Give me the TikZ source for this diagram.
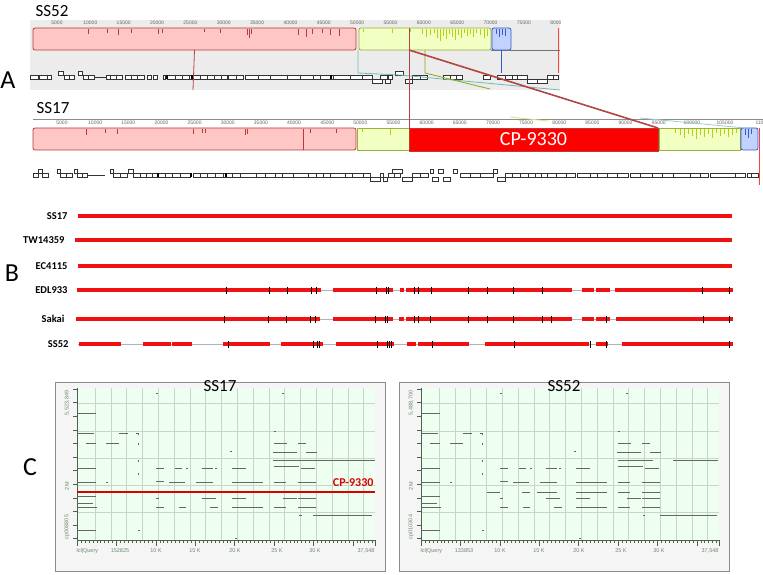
\documentclass[tikz,border=0pt]{standalone}
\usepackage{fontspec}
\setmainfont{Carlito}
\newfontfamily\axisfont{Liberation Sans}
\usepackage{xcolor}
\usetikzlibrary{positioning}

\definecolor{lcbpink}{HTML}{FFC6C6}
\definecolor{lcbredline}{HTML}{B83A3A}
\definecolor{lcbyel}{HTML}{F2FFC2}
\definecolor{lcbyelline}{HTML}{9CAE3C}
\definecolor{lcbblue}{HTML}{C2D2FF}
\definecolor{lcbblueline}{HTML}{3A58D0}
\definecolor{spikeyel}{HTML}{B4D010}
\definecolor{panelgray}{HTML}{ECECEC}
\definecolor{linkred}{HTML}{B24444}
\definecolor{trackred}{HTML}{F01212}
\definecolor{plotmint}{HTML}{EEFFF2}
\definecolor{gridgreen}{HTML}{C4D8C8}
\definecolor{axisgreen}{HTML}{6C8C6C}

\begin{document}
\begin{tikzpicture}[x=1pt, y=-1pt,
  lcb/.style={draw, rounded corners=2pt, inner sep=0pt, outer sep=0pt,
              minimum height=22pt, line width=0.8pt, anchor=north west},
  gene/.style={draw=black!80, fill=white, line width=0.4pt},
  rulerlbl/.style={font=\axisfont\fontsize{5}{5}\selectfont, text=black!60},
  panellbl/.style={font=\fontsize{26}{26}\selectfont},
  strainlbl/.style={font=\bfseries\fontsize{10.5}{11}\selectfont, anchor=east},
  track/.style={trackred, line width=4.2pt},
  trackbase/.style={black!30, line width=1pt},
  snp/.style={black, line width=0.9pt},
  hit/.style={black!60, line width=1pt},
  plotgrid/.style={gridgreen, line width=0.6pt},
  axlbl/.style={font=\axisfont\fontsize{5.5}{6}\selectfont, text=axisgreen},
  link/.style={line width=0.8pt}
]
\useasboundingbox (0,0) rectangle (763,575);

% ── A: SS52 track ──
\fill[panelgray] (30,20) rectangle (560,90);
\node[font=\fontsize{17}{17}\selectfont] (ss52top) at (52,11) {SS52};
\begin{scope}
  \clip (30,15) rectangle (560,30);
  \foreach \k in {1,...,16}
    \node[rulerlbl] (r52n\k) at ({57+33.35*(\k-1)},22.5) {\number\numexpr5000*\k\relax};
\end{scope}
\node[lcb, fill=lcbpink, draw=lcbredline, minimum width=323pt] (b52red) at (33,28) {};
\node[lcb, fill=lcbyel, draw=lcbyelline, minimum width=132pt] (b52yel) at (359,28) {};
\node[lcb, fill=lcbblue, draw=lcbblueline, minimum width=19pt] (b52blue) at (492,28) {};
\foreach \s/\h in {88/5,107/4,118/6,131/4,158/5,162/4,204/3,220/4,247/6,249/9,251/5,298/6,306/8,312/5,322/4,330/6,339/7}
  \draw[lcbredline, line width=0.6pt] (\s,29) -- ++(0,\h);
\foreach \s/\h in {363/3,392/4,410/3,422/5,426/8,430/6,434/4,437/9,440/12,443/7,446/10,449/5,452/8,455/11,458/6,461/9,464/4,467/7,470/5,473/8,476/4,480/6,484/9,487/7}
  \draw[spikeyel, line width=0.6pt] (\s,29) -- ++(0,\h);
\foreach \s/\h in {496/5,499/8,502/6,505/7}
  \draw[lcbblueline, line width=0.6pt] (\s,29) -- ++(0,\h);
\draw[black!55, line width=0.6pt] (b52yel.south east) -- (560,50);
\node[panellbl] (lblA) at (8,80) {A};

% ── A: SS52 genes ──
\foreach \a/\b in {30/38,39/47,47/51,64/69,69/74,83/88,88/94,106/110,110/116,116/122,125/131,131/137,137/144,147/151,153/157,163/165,167/175,175/182,182/189,189/192,193/200,200/207,207/214,214/221,221/227,228/236,236/243,245/258,258/270,270/287,287/300,300/313,313/320,320/333,333/350,350/362,362/372,380/387,388/392,412/420,420/427,443/450,450/456,456/462,483/490,497/505,505/512,512/517,517/527,547/553,553/558}
  \draw[gene] (\a,75) rectangle (\b,79);
\foreach \a/\b in {58/63,78/82,395/403}
  \draw[gene] (\a,71) rectangle (\b,75);
\foreach \a/\b in {372/382,385/390,405/412,527/537,537/547}
  \draw[gene] (\a,79) rectangle (\b,83);
\draw[black!80, line width=0.4pt] (94,77) -- (106,77);
\foreach \a/\b in {191/193,330/332,166/167.5}
  \fill[black] (\a,75) rectangle (\b,79);

% ── A: SS17 track ──
\node[font=\fontsize{17}{17}\selectfont] (ss17top) at (53,108) {SS17};
\draw[black!45, line width=0.6pt] (33,119) -- (763,119);
\foreach \k in {1,...,21}
  \node[rulerlbl] (r17n\k) at ({62+33.15*(\k-1)},123) {\number\numexpr5000*\k\relax};
\node[rulerlbl, anchor=west] (r17n22) at (752,123) {110};
\node[lcb, fill=lcbpink, draw=lcbredline, minimum width=323pt] (b17red) at (33,128) {};
\node[lcb, fill=lcbyel, draw=lcbyelline, minimum width=52pt, rounded corners=0pt] (b17yelA) at (357,128) {};
\node[lcb, fill=red, draw=lcbredline, minimum width=249pt, minimum height=23pt, rounded corners=0pt,
      text=white, font=\fontsize{20}{20}\selectfont] (cp) at (409,128) {CP-9330};
\node[lcb, fill=lcbyel, draw=lcbyelline, minimum width=81pt, rounded corners=0pt] (b17yelB) at (659,128) {};
\node[lcb, fill=lcbblue, draw=lcbblueline, minimum width=17pt] (b17blue) at (741,128) {};
\foreach \s/\h in {86/6,105/4,117/5,193/5,202/4,205/4,245/6,247/5,310/4,336/4}
  \draw[lcbredline, line width=0.6pt] (\s,129) -- ++(0,\h);
\draw[lcbredline, line width=0.6pt] (303,129) -- (303,150);
\foreach \s/\h in {362/3,390/6,675/4,680/6,684/9,688/5,692/7,696/10,700/6,704/8,708/5,712/9,716/4,720/7,724/5,728/8,732/6,736/4}
  \draw[spikeyel, line width=0.6pt] (\s,129) -- ++(0,\h);
\foreach \s/\h in {745/6,748/9,751/5}
  \draw[lcbblueline, line width=0.6pt] (\s,129) -- ++(0,\h);

% ── A: SS17 genes ──
\foreach \a/\b in {33/38,42/48,60/66,66/72,77/82,82/87,113/120,120/127,133/140,140/146,146/152,152/157,157/165,165/172,172/180,180/190,193/200,200/207,207/215,215/223,223/232,232/240,240/256,256/265,265/275,275/282,282/293,293/308,308/316,316/323,323/330,330/345,345/352,352/363,363/370,380/383,388/394,394/400,412/420,420/428,460/470,470/480,480/493,505/512,512/520,520/528,528/535,535/541,541/547,547/556,556/566,566/575,577/590,590/597,597/607,607/617,617/628,630/640,640/652,652/662,662/673,673/690,690/700,700/708,710/735,735/745,747/751,751/758}
  \draw[gene] (\a,173) rectangle (\b,177);
\foreach \a/\b in {38/42,57/60,74/77,110/113,128/133,392/402,430/433,438/443,453/457,493/497}
  \draw[gene] (\a,169) rectangle (\b,173);
\foreach \a/\b in {370/380,383/387,402/412,432/438,443/450,497/505}
  \draw[gene] (\a,177) rectangle (\b,181);
\draw[black!80, line width=0.4pt] (88,175) -- (105,175);
\foreach \a/\b in {190/192,157/158.5,225/226.5}
  \fill[black] (\a,173) rectangle (\b,177);

% ── A: links between SS52 and SS17 ──
\coordinate (redend) at (193,90);
\coordinate (ins52top) at (409,28);
\coordinate (ins52) at (409,50);
\coordinate (tealknee) at (358,73);
\coordinate (tealend) at (560,90);
\coordinate (yelknee) at (b52yel.south |- 0,73);
\coordinate (yelend) at (490,89);
\coordinate (blueend) at (b52blue.south |- 0,73);
\draw[link, linkred] (b52red.south) -- (redend);
\draw[link, teal!55] (358,50) -- (tealknee) -- (400,75) -- (tealend);
\draw[link, spikeyel!80!black] (b52yel.south) -- (yelknee) -- (yelend);
\draw[link, lcbblueline] (b52blue.south) -- (blueend);
\draw[linkred, line width=1pt] (ins52top) -- (cp.north west);
\draw[linkred, line width=1.6pt] (ins52) -- (cp.north east);
\draw[link, red!75] (558,28) -- (558,73);
\draw[link, red!75] (759,128) -- (759,185);
\draw[link, teal!40] (640,118) -- (745,128);
\draw[link, spikeyel!55] (510,117) -- (548,121);

% ── B: strain alignments ──
\node[panellbl] (lblB) at (12,273) {B};
\node[strainlbl] (sSS17) at (71,216) {SS17};
\node[strainlbl] (sTW) at (68,240) {TW14359};
\node[strainlbl] (sEC) at (71,266) {EC4115};
\node[strainlbl] (sEDL) at (71,290) {EDL933};
\node[strainlbl] (sSakai) at (68,319) {Sakai};
\node[strainlbl] (sSS52) at (72,344) {SS52};
\draw[track] (78,216) -- (732,216);
\draw[track] (75,240) -- (732,240);
\draw[track] (78,266) -- (732,266);
\foreach \ty in {290,319,344}
  \draw[trackbase] (78,\ty) -- (733,\ty);
\foreach \a/\b in {77/321,333/393,400/404,406/572,582/594,596/610,615/733}
  \draw[track, line width=4pt] (\a,290) -- (\b,290);
\foreach \a/\b in {76/320,333/393,399/404,406/572,582/594,596/610,616/733}
  \draw[track, line width=4pt] (\a,319) -- (\b,319);
\foreach \a/\b in {79/121,143/171,172/192,223/270,281/323,336/394,407/416,418/469,485/589,596/608,622/733}
  \draw[track, line width=4pt] (\a,344) -- (\b,344);
\foreach \s in {226,269,287,311,316,376,386,388,414,418,431,468,487,513,542,702,729}
  \draw[snp] (\s,286.5) -- (\s,293.5);
\foreach \s in {224,268,286,310,315,375,385,387,414,418,430,468,487,513,542,551,606,703,729}
  \draw[snp] (\s,315.5) -- (\s,322.5);
\foreach \s in {228,313,317,319,377,387,389,391,432,514,590,606,729}
  \draw[snp] (\s,340.5) -- (\s,347.5);

% ── C: dot plots ──
\node[panellbl] (lblC) at (30,467) {C};
\foreach \ox/\ttl/\ytop/\yname/\qnum in {77/SS17/{5,523,849}/cp008805/152825, 421/SS52/{5,488,700}/cp010304/133853} {
  \begin{scope}[shift={(\ox,0)}]
    \filldraw[fill=black!4, draw=black!45, line width=1pt] (-22,382) rectangle (308,571);
    \fill[plotmint] (0,388) rectangle (298,540);
    \foreach \k in {0,...,17}
      \draw[plotgrid] ({18+15.8*\k},388) -- ({18+15.8*\k},540);
    \foreach \gy in {403,431,458,485,512}
      \draw[plotgrid] (0,\gy) -- (298,\gy);
    \draw[axisgreen!70!black, line width=0.7pt] (0,388) -- (0,540) -- (298,540);
    \foreach \t in {0,3.94,...,298}
      \draw[axisgreen!70!black, line width=0.4pt] (\t,540) -- (\t,543);
    \foreach \t in {0,39.4,...,280}
      \draw[axisgreen!70!black, line width=0.5pt] (\t,540) -- (\t,546);
    \draw[axisgreen!70!black, line width=0.5pt] (298,540) -- (298,546);
    \foreach \t in {389,402.6,...,540}
      \draw[axisgreen!70!black, line width=0.4pt] (-4,\t) -- (0,\t);
    \node[axlbl, rotate=90] (ytop\ox) at (-10,403) {\ytop};
    \node[axlbl, rotate=90] (ymid\ox) at (-10,486) {2 M};
    \node[axlbl, rotate=90] (ybot\ox) at (-10,527) {\yname};
    \node[axlbl, anchor=west] (xq\ox) at (-4,551) {lcl|Query};
    \node[axlbl] (xqn\ox) at (43,551) {\qnum};
    \foreach \xl/\xt in {79/10 K,118/15 K,158/20 K,200/25 K,238/30 K}
      \node[axlbl] (x\xl\ox) at (\xl,551) {\xt};
    \node[axlbl, anchor=east] (xend\ox) at (301,551) {37,548};
    % shared hits
    \foreach \a/\b/\y in {0/19/413,0/17/433,42/51/433,59/60.5/433,9/19/443,29/42/443,197/210/443,221/229/443,
        196/220/452,229/240/452,0/19/468,79/87/468,98/105/468,109/110.5/468,125/136/468,138/139.5/468,
        155/169/468,197/222/466,224/238/468,0/19/482,29/30.5/482,79/87/481,92/108/482,119/136/482,155/186/482,
        197/209/482,221/239/482,66/79/492,101/109/492,116/136/492,155/186/492,197/209/492,221/239/492,
        0/19/496,0/16/503,0/20/507,79/82/498,125/139/498,155/169/498,206/220/498,221/239/498,
        79/87/507,102/109/507,133/141/507,155/186/507,197/209/507,221/239/507,0/19/530,
        79/80.5/393,205/207/393,197/198.5/431,61/62.5/530,158/160/538,153/154.5/451}
      \draw[hit] (\a,\y) -- (\b,\y);
    \foreach \y in {433,443,460,473}
      \draw[hit, line width=0.8pt] (61,\y) -- (61,\y+1.5);
    \node[font=\fontsize{17}{17}\selectfont] (title\ox) at (143,386) {\ttl};
  \end{scope}
}
% SS17-only hits and CP-9330 line
\foreach \a/\b/\y in {196/298/460,236/295/515,222/225/515}
  \draw[hit] (77+\a,\y) -- (77+\b,\y);
\draw[red!85!black, line width=2pt] (77,492) -- (375,492);
\node[font=\bfseries\fontsize{12}{12}\selectfont, text=red!85!black, anchor=south east] (cpC) at (377,490) {CP-9330};
% SS52-only hits
\foreach \a/\b/\y in {197/232/460,252/297/460,239/296/515,222/224/515}
  \draw[hit] (421+\a,\y) -- (421+\b,\y);

\end{tikzpicture}
\end{document}
